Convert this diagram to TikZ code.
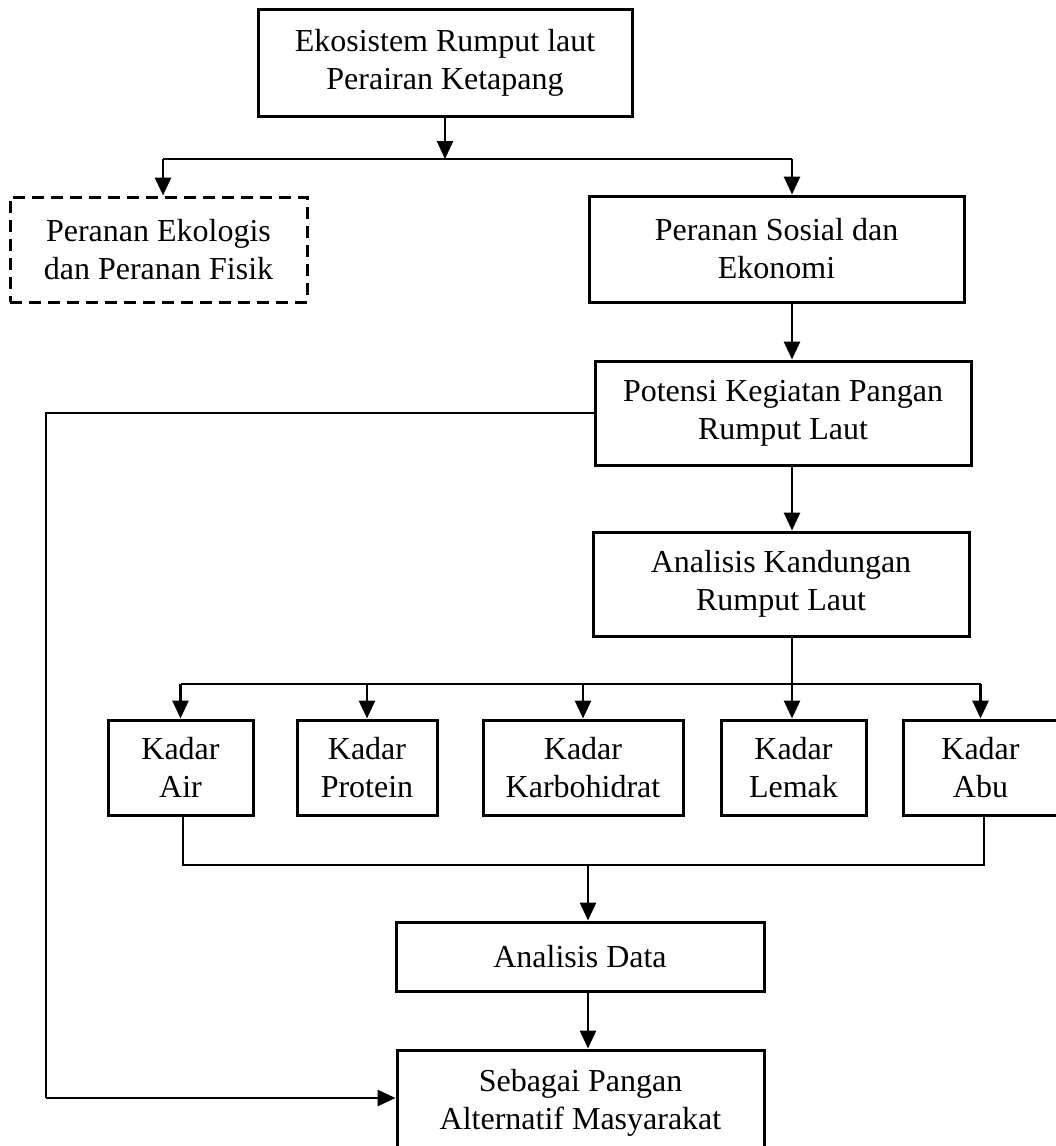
\documentclass[tikz,border=0pt]{standalone}
\usepackage{fontspec}
\setmainfont{Liberation Serif}
\usetikzlibrary{arrows.meta}
\begin{document}
\begin{tikzpicture}[x=1pt,y=-1pt,
  box/.style={draw, line width=3pt, rectangle, inner sep=0pt, align=center,
    font=\fontsize{32}{38}\selectfont},
  dbox/.style={box, dash pattern=on 12pt off 7pt},
  arr/.style={line width=2.8pt, -{Triangle[length=18pt,width=16pt]}},
  midline/.style={line width=2.2pt},
  thinline/.style={line width=1.6pt},
]
\useasboundingbox (0,0) rectangle (1056,1146);
\fill[white] (0,0) rectangle (1056,1146);

% boxes
\node[box, minimum width=374pt, minimum height=107pt] (top) at (445,62.5) {Ekosistem Rumput laut\\Perairan Ketapang};
\node[dbox, minimum width=297pt, minimum height=105pt] (eko) at (158.5,249.5) {Peranan Ekologis\\dan Peranan Fisik};
\node[box, minimum width=375pt, minimum height=106pt] (sosial) at (776.5,249) {Peranan Sosial dan\\Ekonomi};
\node[box, minimum width=376pt, minimum height=104pt] (potensi) at (783,413) {Potensi Kegiatan Pangan\\Rumput Laut};
\node[box, minimum width=376pt, minimum height=104pt] (kand) at (781,584) {Analisis Kandungan\\Rumput Laut};
\node[box, minimum width=145pt, minimum height=95pt] (air) at (180.5,767.5) {Kadar\\Air};
\node[box, minimum width=140pt, minimum height=95pt] (prot) at (367,767.5) {Kadar\\Protein};
\node[box, minimum width=200pt, minimum height=95pt] (karbo) at (583,767.5) {Kadar\\Karbohidrat};
\node[box, minimum width=145pt, minimum height=95pt] (lemak) at (793.5,767.5) {Kadar\\Lemak};
\node[box, minimum width=155pt, minimum height=95pt] (abu) at (980.5,767.5) {Kadar\\Abu};
\node[box, minimum width=368pt, minimum height=69pt] (data) at (580,956.5) {Analisis Data};
\node[box, minimum width=367pt, minimum height=106pt] (seb) at (580.5,1103) {Sebagai Pangan\\Alternatif Masyarakat};

% helper coordinates
\coordinate (sp) at (792,0);
\coordinate (jt) at (445,159);
\coordinate (jl) at (163,159);
\coordinate (jr) at (792,159);
\coordinate (jk) at (0,684);
\coordinate (jb) at (0,865);
\coordinate (jd) at (588,865);
\coordinate (lx) at (46,0);
\coordinate (la) at (46,1098);

% top split
\draw[arr] (top.south) -- (jt);
\draw[midline] (jl) -- (jr);
\draw[arr] (jl) -- (jl |- eko.north);
\draw[arr] (jr) -- (jr |- sosial.north);

% main spine
\draw[arr] (sosial.south -| sp) -- (potensi.north -| sp);
\draw[arr] (potensi.south -| sp) -- (kand.north -| sp);
\draw[arr] (kand.south -| sp) -- (lemak.north -| sp);

% kadar split
\draw[midline] (air.north |- jk) -- (abu.north |- jk);
\draw[arr] (air.north |- jk) -- (air.north);
\draw[arr] (prot.north |- jk) -- (prot.north);
\draw[arr] (karbo.north |- jk) -- (karbo.north);
\draw[arr] (abu.north |- jk) -- (abu.north);

% merge
\draw[thinline] ([xshift=2.5pt]air.south) -- ([xshift=2.5pt]air.south |- jb)
  -- ([xshift=3.5pt]abu.south |- jb) -- ([xshift=3.5pt]abu.south);
\draw[arr] (jd) -- (jd |- data.north);
\draw[arr] (data.south -| jd) -- (seb.north -| jd);

% left bypass
\draw[thinline] (potensi.west) -- (potensi.west -| lx) -- (la);
\draw[arr] (la) -- (la -| seb.west);
\end{tikzpicture}
\end{document}
